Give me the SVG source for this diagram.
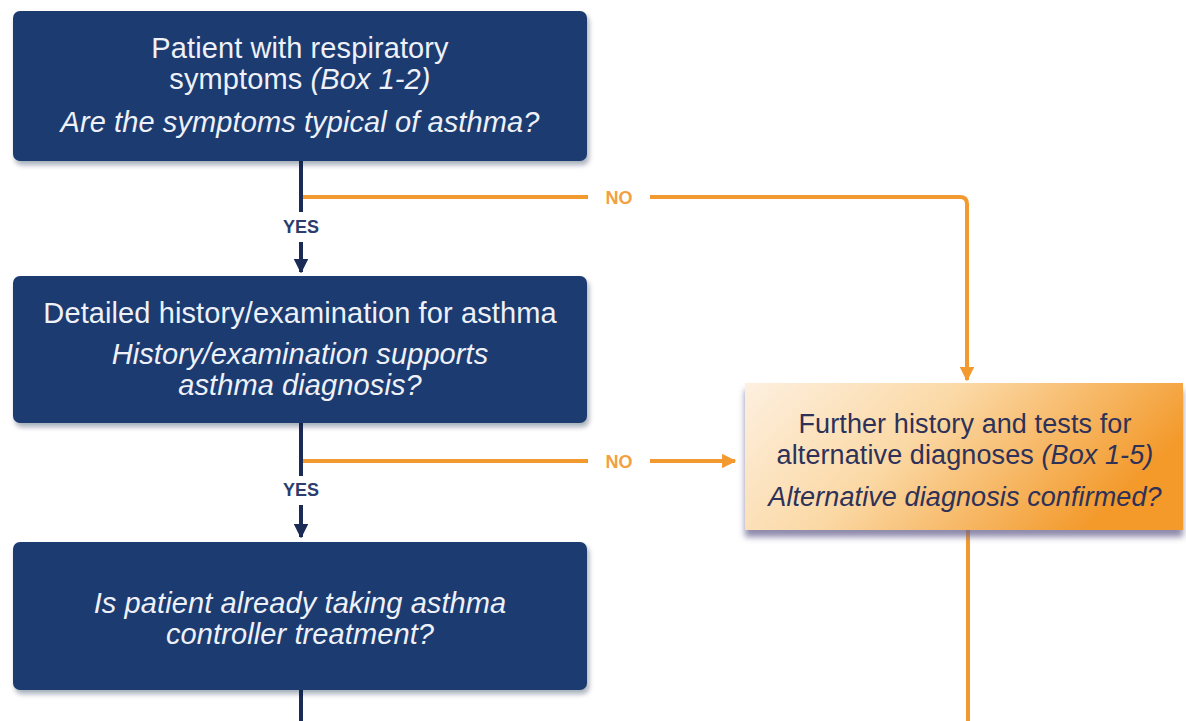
<svg xmlns="http://www.w3.org/2000/svg" width="1186" height="721" viewBox="0 0 1186 721">
  <defs>
    <style>
      .box { fill: #1f3b71; }
      .wt { font-family: "Liberation Sans", Arial, sans-serif; font-size: 29px; fill: #eef1f8; text-anchor: middle; letter-spacing: 0.1px; }
      .ot { font-family: "Liberation Sans", Arial, sans-serif; font-size: 27px; fill: #2e3158; text-anchor: middle; letter-spacing: 0.1px; }
      .it { font-style: italic; }
      .dk { stroke: #1a2b55; stroke-width: 4; fill: none; }
      .or { stroke: #f29a30; stroke-width: 4; fill: none; }
      .yes { font-family: "Liberation Sans", Arial, sans-serif; font-size: 18px; font-weight: bold; fill: #2c3d6d; text-anchor: middle; }
      .no { font-family: "Liberation Sans", Arial, sans-serif; font-size: 18px; font-weight: bold; fill: #f2a040; text-anchor: middle; }
    </style>
    <linearGradient id="orangeFill" x1="0" y1="0" x2="1" y2="0.35">
      <stop offset="0" stop-color="#fdf0e0"/>
      <stop offset="0.45" stop-color="#fbd9a6"/>
      <stop offset="1" stop-color="#f39a2c"/>
    </linearGradient>
    <filter id="shade" x="-5%" y="-5%" width="115%" height="125%">
      <feGaussianBlur in="SourceAlpha" stdDeviation="2.5"/>
      <feOffset dx="2" dy="4" result="b"/>
      <feFlood flood-color="#0c1a3a" flood-opacity="0.35"/>
      <feComposite in2="b" operator="in"/>
      <feMerge><feMergeNode/><feMergeNode in="SourceGraphic"/></feMerge>
    </filter>
    <filter id="shadeOrange" x="-5%" y="-5%" width="115%" height="130%">
      <feGaussianBlur in="SourceAlpha" stdDeviation="3"/>
      <feOffset dx="0" dy="7" result="b"/>
      <feFlood flood-color="#6a6490" flood-opacity="0.75"/>
      <feComposite in2="b" operator="in"/>
      <feMerge><feMergeNode/><feMergeNode in="SourceGraphic"/></feMerge>
    </filter>
    <marker id="arrowDark" viewBox="0 0 10 10" refX="9" refY="5" markerWidth="3.6" markerHeight="3.6" orient="auto" markerUnits="strokeWidth">
      <path d="M0,0 L10,5 L0,10 z" fill="#1a2b55"/>
    </marker>
    <marker id="arrowOrange" viewBox="0 0 10 10" refX="9" refY="5" markerWidth="3.6" markerHeight="3.6" orient="auto" markerUnits="strokeWidth">
      <path d="M0,0 L10,5 L0,10 z" fill="#f29a30"/>
    </marker>
  </defs>

  <rect width="1186" height="721" fill="#ffffff"/>

  <!-- connectors -->
  <g id="connectors">
    <line class="dk" x1="301" y1="160" x2="301" y2="212"/>
    <line class="dk" x1="301" y1="242" x2="301" y2="272" marker-end="url(#arrowDark)"/>
    <line class="dk" x1="301" y1="422" x2="301" y2="476"/>
    <line class="dk" x1="301" y1="505" x2="301" y2="537" marker-end="url(#arrowDark)"/>
    <line class="dk" x1="301" y1="690" x2="301" y2="721"/>

    <line class="or" x1="303" y1="197" x2="588" y2="197"/>
    <path class="or" d="M650,197 H960 Q967,197 967,204 V380" marker-end="url(#arrowOrange)"/>
    <line class="or" x1="303" y1="461" x2="588" y2="461"/>
    <line class="or" x1="650" y1="461" x2="735" y2="461" marker-end="url(#arrowOrange)"/>
    <line class="or" x1="968" y1="530" x2="968" y2="721"/>

    <text class="yes" x="301" y="233">YES</text>
    <text class="yes" x="301" y="496">YES</text>
    <text class="no" x="619" y="204">NO</text>
    <text class="no" x="619" y="468">NO</text>
  </g>

  <!-- symptoms box -->
  <g id="node-symptoms">
    <rect class="box" x="13" y="11" width="574" height="150" rx="7" filter="url(#shade)"/>
    <text class="wt" x="300" y="58">Patient with respiratory</text>
    <text class="wt" x="300" y="89">symptoms <tspan class="it">(Box 1-2)</tspan></text>
    <text class="wt it" x="300" y="132">Are the symptoms typical of asthma?</text>
  </g>

  <!-- history box -->
  <g id="node-history">
    <rect class="box" x="13" y="276" width="574" height="147" rx="7" filter="url(#shade)"/>
    <text class="wt" x="300" y="323">Detailed history/examination for asthma</text>
    <text class="wt it" x="300" y="364">History/examination supports</text>
    <text class="wt it" x="300" y="395">asthma diagnosis?</text>
  </g>

  <!-- controller treatment box -->
  <g id="node-controller">
    <rect class="box" x="13" y="542" width="574" height="148" rx="7" filter="url(#shade)"/>
    <text class="wt it" x="300" y="613">Is patient already taking asthma</text>
    <text class="wt it" x="300" y="644">controller treatment?</text>
  </g>

  <!-- alternative diagnoses box -->
  <g id="node-alternative">
    <rect x="745" y="383" width="438" height="147" fill="url(#orangeFill)" filter="url(#shadeOrange)"/>
    <text class="ot" x="965" y="433">Further history and tests for</text>
    <text class="ot" x="965" y="464">alternative diagnoses <tspan class="it">(Box 1-5)</tspan></text>
    <text class="ot it" x="965" y="506">Alternative diagnosis confirmed?</text>
  </g>
</svg>
